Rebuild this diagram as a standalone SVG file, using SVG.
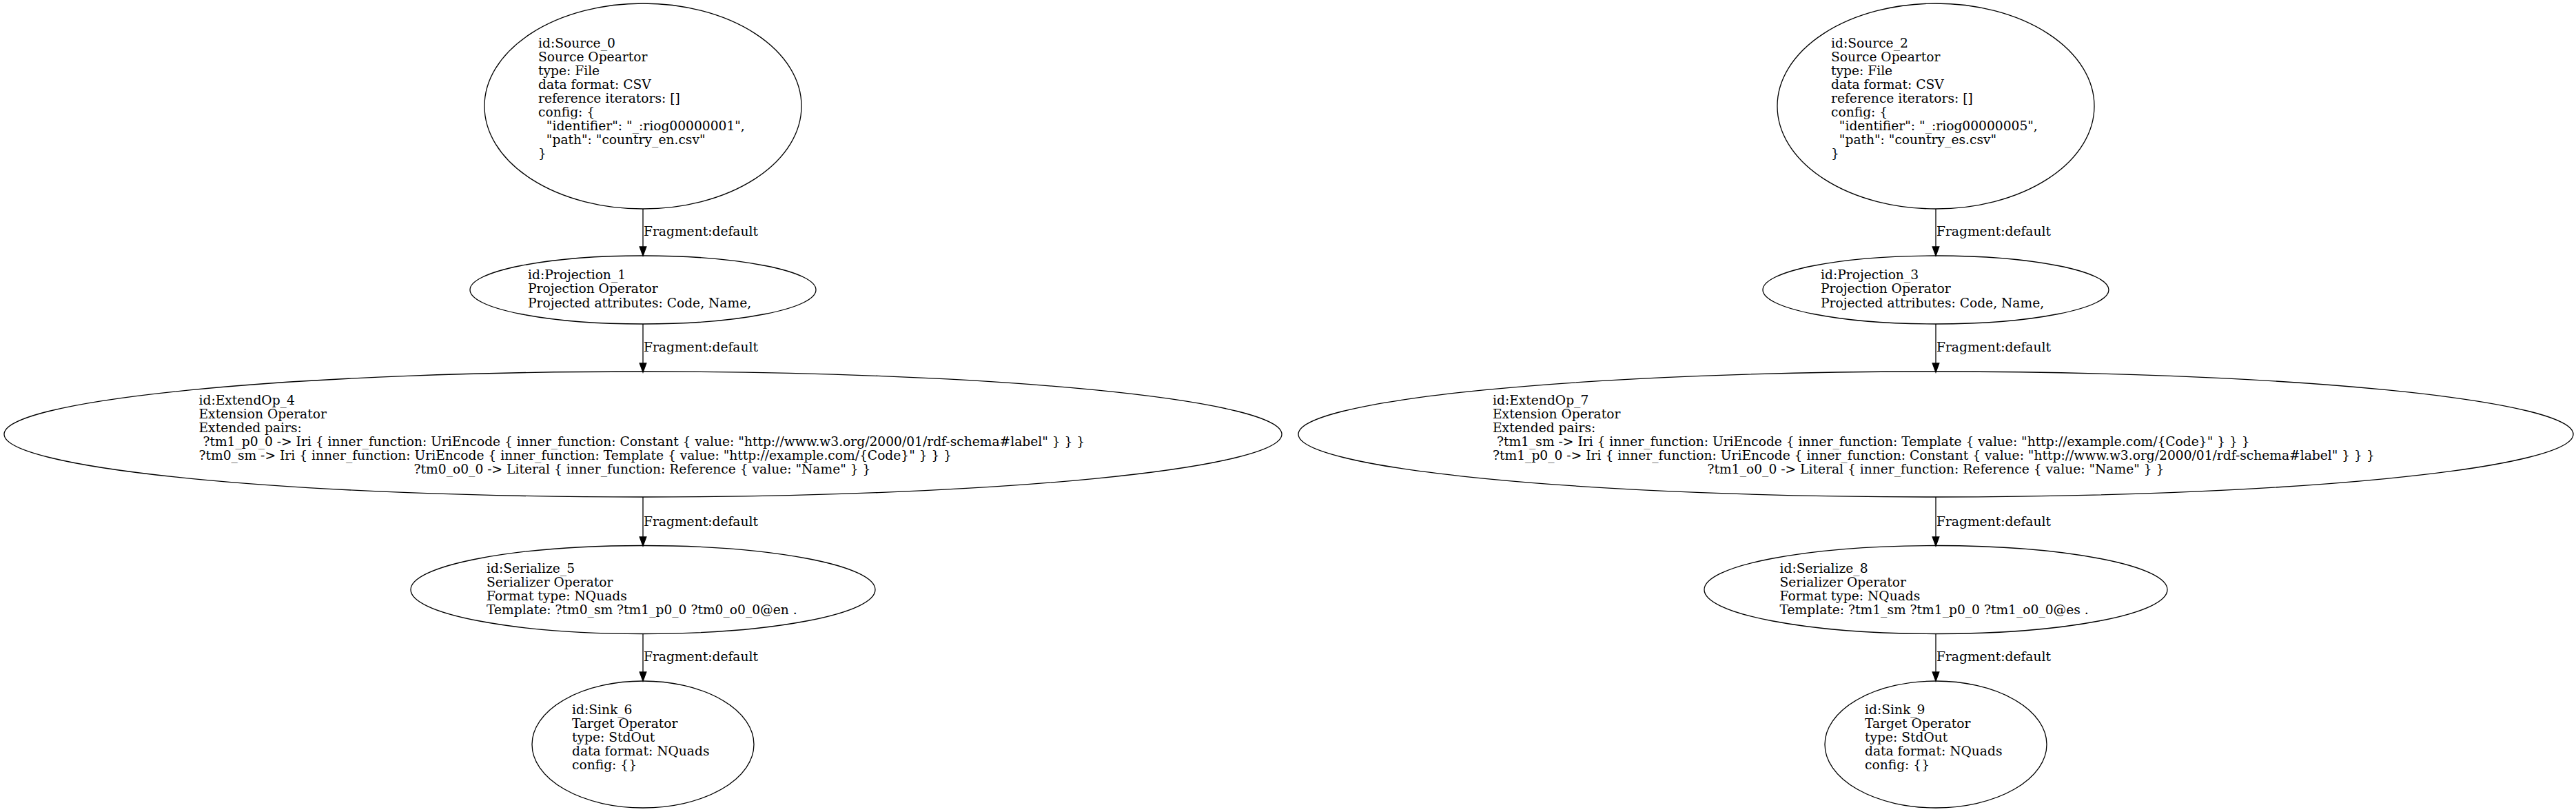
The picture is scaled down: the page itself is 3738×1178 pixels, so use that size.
<svg xmlns="http://www.w3.org/2000/svg" width="3738" height="1178" viewBox="0 0 3738 1178">
<style>
.n ellipse{fill:none;stroke:#000;stroke-width:1.3}
text{font-family:"DejaVu Serif","Liberation Serif",serif;font-size:18.67px;fill:#000}
.c{text-anchor:middle}
.e line{stroke:#000;stroke-width:1.3}
.e polygon{fill:#000;stroke:#000;stroke-width:1.3}
</style>
<rect width="3738" height="1178" fill="#fff"/>
<g id="Source_0" class="n">
<ellipse cx="933" cy="154" rx="230" ry="149"/>
<text x="781" y="69" xml:space="preserve"><tspan x="781" y="69">id:Source_0</tspan><tspan x="781" y="89">Source Opeartor</tspan><tspan x="781" y="109">type: File</tspan><tspan x="781" y="129">data format: CSV</tspan><tspan x="781" y="149">reference iterators: []</tspan><tspan x="781" y="169">config: {</tspan><tspan x="781" y="189">  "identifier": "_:riog00000001",</tspan><tspan x="781" y="209">  "path": "country_en.csv"</tspan><tspan x="781" y="229">}</tspan></text>
</g>
<g id="Projection_1" class="n">
<ellipse cx="933" cy="420.5" rx="251" ry="49.5"/>
<text><tspan x="766" y="405">id:Projection_1</tspan><tspan x="766" y="425.3">Projection Operator</tspan><tspan x="766" y="445.6">Projected attributes: Code, Name,</tspan></text>
</g>
<g id="ExtendOp_4" class="n">
<ellipse cx="933" cy="630" rx="927" ry="91"/>
<text xml:space="preserve"><tspan x="288.5" y="587">id:ExtendOp_4</tspan><tspan x="288.5" y="607">Extension Operator</tspan><tspan x="288.5" y="627">Extended pairs:</tspan><tspan x="288.5" y="647"> ?tm1_p0_0 -&gt; Iri { inner_function: UriEncode { inner_function: Constant { value: "http://www.w3.org/2000/01/rdf-schema#label" } } }</tspan><tspan x="288.5" y="667">?tm0_sm -&gt; Iri { inner_function: UriEncode { inner_function: Template { value: "http://example.com/{Code}" } } }</tspan></text>
<text class="c" x="932" y="687">?tm0_o0_0 -&gt; Literal { inner_function: Reference { value: "Name" } }</text>
</g>
<g id="Serialize_5" class="n">
<ellipse cx="933" cy="855.5" rx="337" ry="64"/>
<text><tspan x="706" y="830.7">id:Serialize_5</tspan><tspan x="706" y="850.7">Serializer Operator</tspan><tspan x="706" y="870.7">Format type: NQuads</tspan><tspan x="706" y="890.7">Template: ?tm0_sm ?tm1_p0_0 ?tm0_o0_0@en .</tspan></text>
</g>
<g id="Sink_6" class="n">
<ellipse cx="933" cy="1080" rx="161" ry="92"/>
<text><tspan x="830" y="1036">id:Sink_6</tspan><tspan x="830" y="1056">Target Operator</tspan><tspan x="830" y="1076">type: StdOut</tspan><tspan x="830" y="1096">data format: NQuads</tspan><tspan x="830" y="1116">config: {}</tspan></text>
</g>
<g id="Source_2" class="n">
<ellipse cx="2809" cy="154" rx="230" ry="149"/>
<text xml:space="preserve"><tspan x="2657" y="69">id:Source_2</tspan><tspan x="2657" y="89">Source Opeartor</tspan><tspan x="2657" y="109">type: File</tspan><tspan x="2657" y="129">data format: CSV</tspan><tspan x="2657" y="149">reference iterators: []</tspan><tspan x="2657" y="169">config: {</tspan><tspan x="2657" y="189">  "identifier": "_:riog00000005",</tspan><tspan x="2657" y="209">  "path": "country_es.csv"</tspan><tspan x="2657" y="229">}</tspan></text>
</g>
<g id="Projection_3" class="n">
<ellipse cx="2809" cy="420.5" rx="251" ry="49.5"/>
<text><tspan x="2642" y="405">id:Projection_3</tspan><tspan x="2642" y="425.3">Projection Operator</tspan><tspan x="2642" y="445.6">Projected attributes: Code, Name,</tspan></text>
</g>
<g id="ExtendOp_7" class="n">
<ellipse cx="2809" cy="630" rx="925" ry="91"/>
<text xml:space="preserve"><tspan x="2166" y="587">id:ExtendOp_7</tspan><tspan x="2166" y="607">Extension Operator</tspan><tspan x="2166" y="627">Extended pairs:</tspan><tspan x="2166" y="647"> ?tm1_sm -&gt; Iri { inner_function: UriEncode { inner_function: Template { value: "http://example.com/{Code}" } } }</tspan><tspan x="2166" y="667">?tm1_p0_0 -&gt; Iri { inner_function: UriEncode { inner_function: Constant { value: "http://www.w3.org/2000/01/rdf-schema#label" } } }</tspan></text>
<text class="c" x="2809" y="687">?tm1_o0_0 -&gt; Literal { inner_function: Reference { value: "Name" } }</text>
</g>
<g id="Serialize_8" class="n">
<ellipse cx="2809" cy="855.5" rx="336" ry="64"/>
<text><tspan x="2582.5" y="830.7">id:Serialize_8</tspan><tspan x="2582.5" y="850.7">Serializer Operator</tspan><tspan x="2582.5" y="870.7">Format type: NQuads</tspan><tspan x="2582.5" y="890.7">Template: ?tm1_sm ?tm1_p0_0 ?tm1_o0_0@es .</tspan></text>
</g>
<g id="Sink_9" class="n">
<ellipse cx="2809" cy="1080" rx="161" ry="92"/>
<text><tspan x="2706" y="1036">id:Sink_9</tspan><tspan x="2706" y="1056">Target Operator</tspan><tspan x="2706" y="1076">type: StdOut</tspan><tspan x="2706" y="1096">data format: NQuads</tspan><tspan x="2706" y="1116">config: {}</tspan></text>
</g>
<g id="edges" class="e">
<line x1="933" y1="303" x2="933" y2="358"/><polygon points="928.2,358 937.8,358 933,371"/><text x="934" y="342">Fragment:default</text>
<line x1="933" y1="470" x2="933" y2="527"/><polygon points="928.2,527 937.8,527 933,540"/><text x="934" y="510">Fragment:default</text>
<line x1="933" y1="721" x2="933" y2="779"/><polygon points="928.2,779 937.8,779 933,792"/><text x="934" y="762.7">Fragment:default</text>
<line x1="933" y1="919.5" x2="933" y2="975"/><polygon points="928.2,975 937.8,975 933,988"/><text x="934" y="959">Fragment:default</text>
<line x1="2809" y1="303" x2="2809" y2="358"/><polygon points="2804.2,358 2813.8,358 2809,371"/><text x="2810" y="342">Fragment:default</text>
<line x1="2809" y1="470" x2="2809" y2="527"/><polygon points="2804.2,527 2813.8,527 2809,540"/><text x="2810" y="510">Fragment:default</text>
<line x1="2809" y1="721" x2="2809" y2="779"/><polygon points="2804.2,779 2813.8,779 2809,792"/><text x="2810" y="762.7">Fragment:default</text>
<line x1="2809" y1="919.5" x2="2809" y2="975"/><polygon points="2804.2,975 2813.8,975 2809,988"/><text x="2810" y="959">Fragment:default</text>
</g>
</svg>
